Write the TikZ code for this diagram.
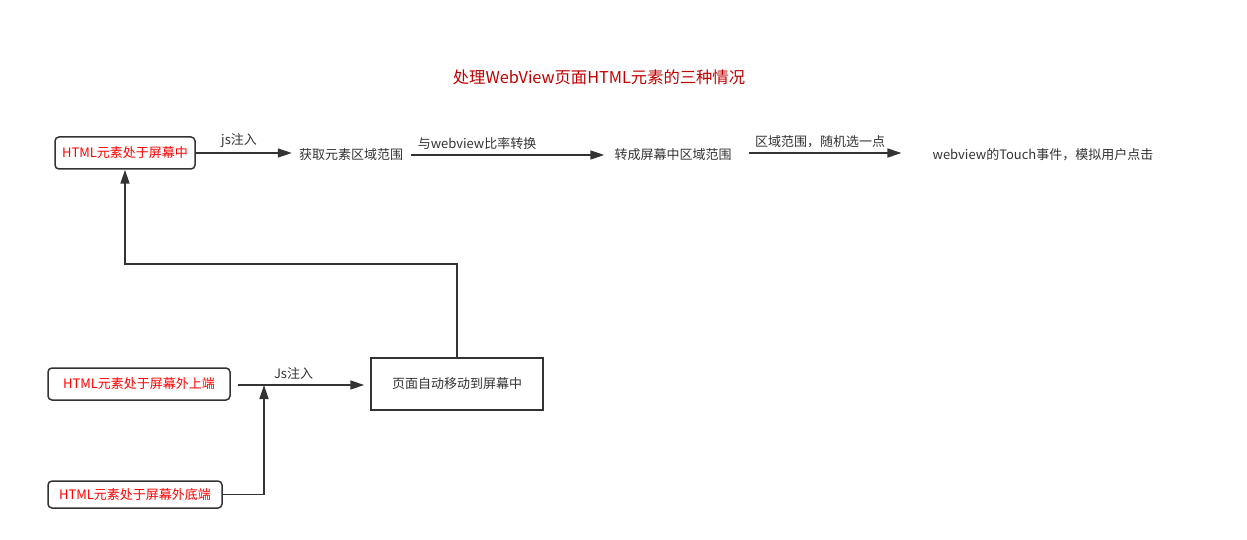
\documentclass[tikz,border=0pt]{standalone}
\usepackage{fontspec}
\setmainfont{Noto Sans CJK SC}
\usetikzlibrary{arrows.meta}
\definecolor{titlered}{HTML}{C00000}
\definecolor{textgray}{HTML}{333333}
\definecolor{htmlred}{HTML}{FF0000}
\tikzset{
  redbox/.style={draw=textgray, line width=1.5pt, rounded corners=4pt, text=htmlred, font=\fontsize{13}{15}\selectfont},
  plainbox/.style={text=textgray, inner xsep=0pt, font=\fontsize{13}{15}\selectfont},
  flow/.style={draw=textgray, line width=1.5pt, -{Triangle[length=14pt,width=9pt]}},
  lbl/.style={text=textgray, font=\fontsize{13}{15}\selectfont, above=1pt}
}

\begin{document}
\begin{tikzpicture}[x=1pt,y=-1pt]
\useasboundingbox (0,0) rectangle (1247,540);
\node[text=titlered, font=\fontsize{16.3}{18}\selectfont] (title) at (599,77) {处理WebView页面HTML元素的三种情况};
% top row
\node[redbox, minimum width=140pt, minimum height=32pt] (inscreen) at (125,153) {HTML元素处于屏幕中};
\node[plainbox] (getrange) at (351,155) {获取元素区域范围};
\node[plainbox] (toscreen) at (673,155) {转成屏幕中区域范围};
\node[plainbox] (touch) at (1043,155) {webview的Touch事件，模拟用户点击};
\draw[flow, shorten >=7pt] (inscreen.east) -- node[lbl, pos=0.42]{js注入} (getrange.west |- inscreen.east);
\draw[flow, shorten <=8pt, shorten >=10pt] (getrange.east) -- node[lbl, pos=0.35]{与webview比率转换} (toscreen.west);
\draw[flow, shorten <=17pt, shorten >=31pt] (toscreen.east |- inscreen.east) -- node[lbl, pos=0.44]{区域范围，随机选一点} (touch.west |- inscreen.east);
% bottom part
\node[redbox, minimum width=182pt, minimum height=32pt] (intop) at (139,384) {HTML元素处于屏幕外上端};
\node[redbox, minimum width=174pt, minimum height=27pt] (inbottom) at (135,494.5) {HTML元素处于屏幕外底端};
\node[draw=textgray, line width=1.5pt, minimum width=172pt, minimum height=52pt, plainbox] (movepage) at (457,384) {页面自动移动到屏幕中};
\coordinate (join) at (264,385);
\coordinate (bend) at (125,264);
\draw[flow, shorten <=7pt, shorten >=6pt] (intop.east |- join) -- node[lbl, pos=0.45]{Js注入} (movepage.west |- join);
\draw[flow] (inbottom.east) -| (join);
\draw[flow] (movepage.north) |- (bend) -- (inscreen.south);
\end{tikzpicture}
\end{document}
